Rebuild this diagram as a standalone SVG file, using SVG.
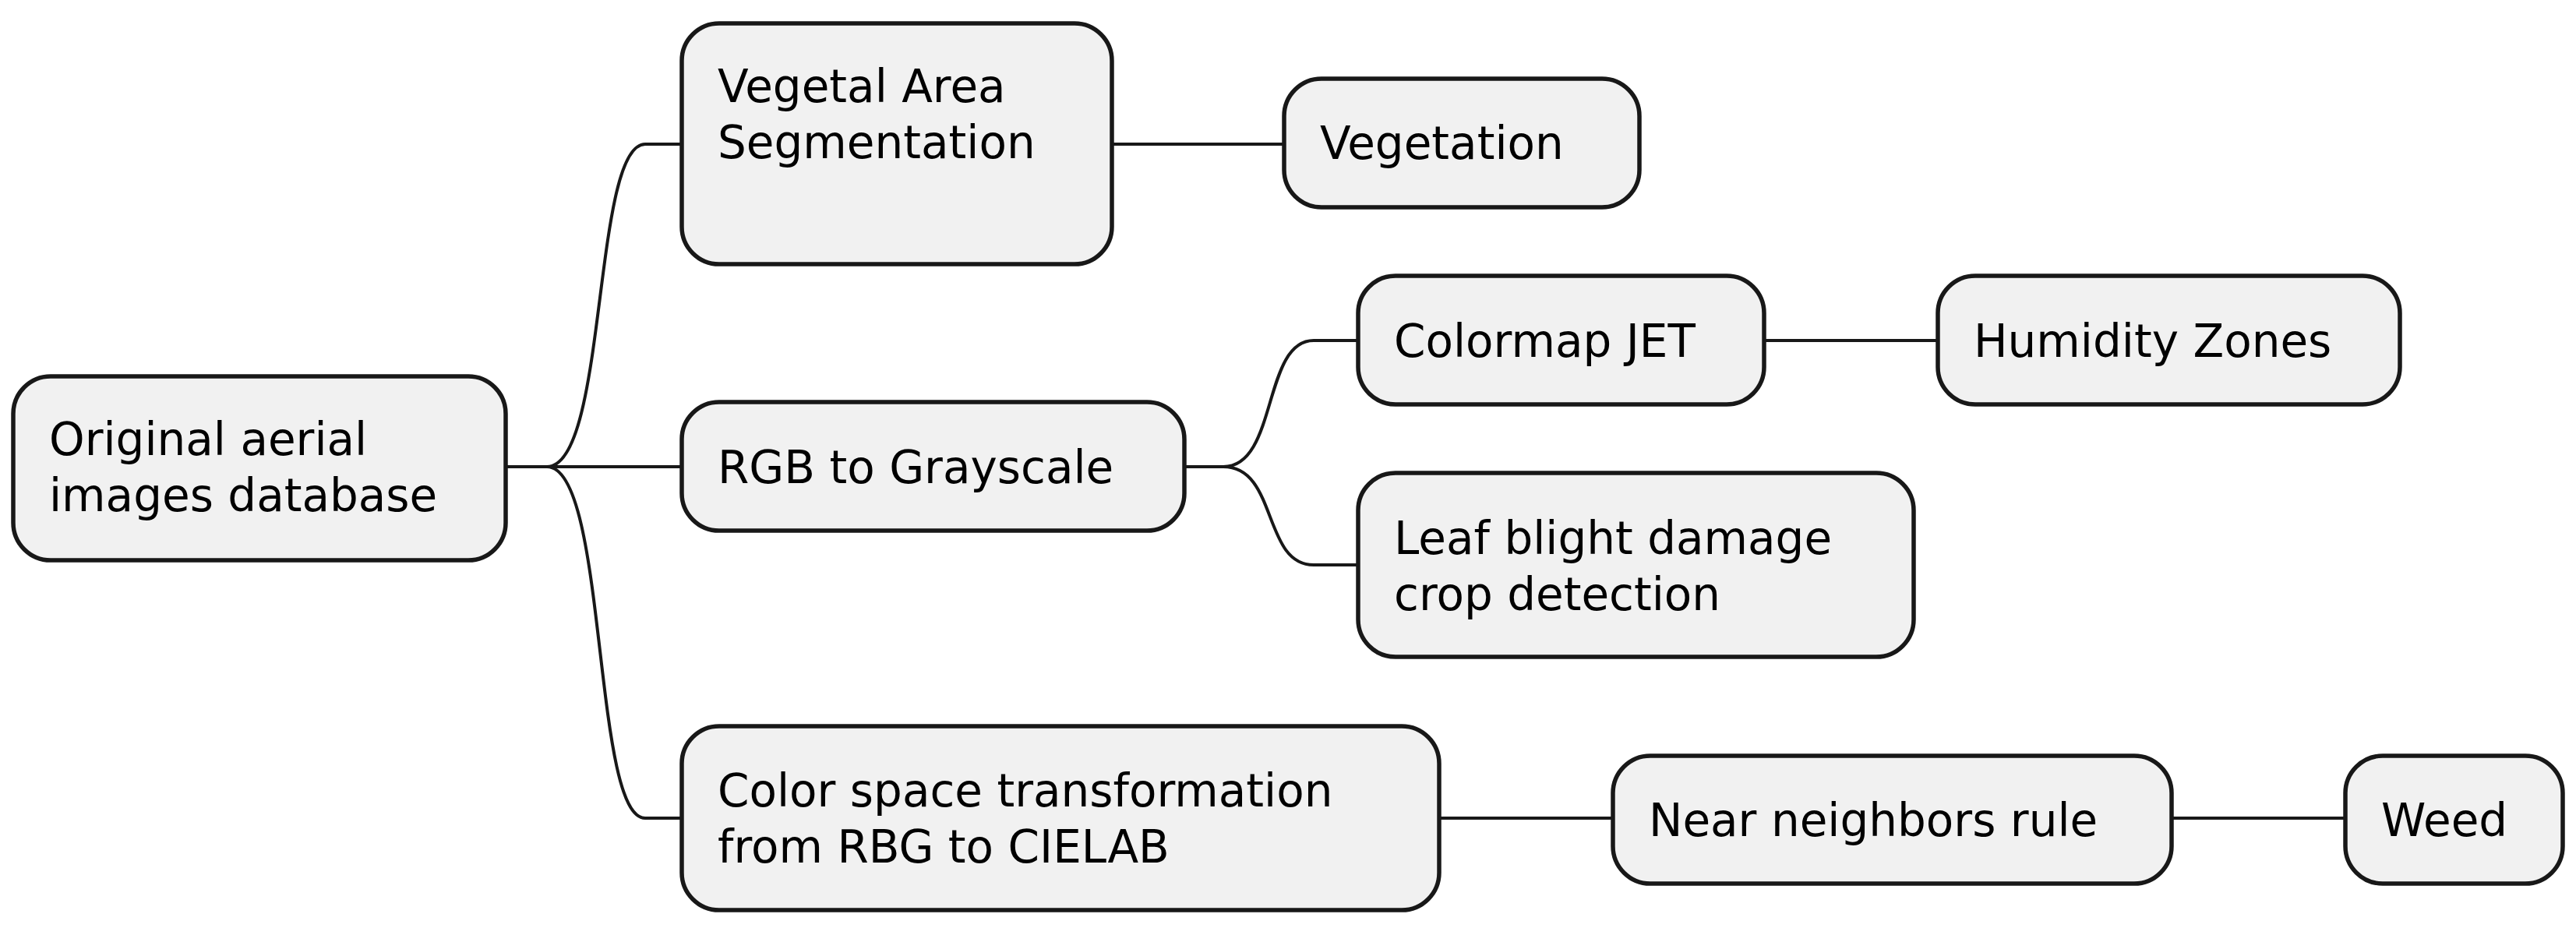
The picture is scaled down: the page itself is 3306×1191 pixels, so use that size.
<svg xmlns="http://www.w3.org/2000/svg" width="3306" height="1191" viewBox="0 0 3306 1191">
<style>
rect{fill:#f1f1f1;stroke:#181818;stroke-width:5.5}
text{font-family:"DejaVu Sans",sans-serif;font-size:58px;fill:#000}
#links path{fill:none;stroke:#181818;stroke-width:4}
</style>
<rect width="3306" height="1191" fill="#fff" style="stroke:none;fill:#fff"/>
<g id="links">
<path d="M649 599 H702 C780 599 760 185 828 185 H875"/>
<path d="M649 599 H875"/>
<path d="M702 599 C780 599 760 1050 828 1050 H875"/>
<path d="M1427 185 H1648"/>
<path d="M1520 599 H1570 C1640 599 1620 437 1686 437 H1743"/>
<path d="M1570 599 C1640 599 1620 725 1686 725 H1743"/>
<path d="M2264 437 H2487"/>
<path d="M1847 1050 H2070"/>
<path d="M2787 1050 H3010"/>
</g>
<g id="root"><rect x="17" y="483" width="632" height="236" rx="48"/><text x="63" y="584">Original aerial</text><text x="63" y="656">images database</text></g>
<g id="vegetal"><rect x="875" y="30" width="552" height="309" rx="48"/><text x="921" y="131">Vegetal Area</text><text x="921" y="203">Segmentation</text></g>
<g id="vegetation"><rect x="1648" y="101" width="456" height="165" rx="48"/><text x="1694" y="204">Vegetation</text></g>
<g id="rgb"><rect x="875" y="516" width="645" height="165" rx="48"/><text x="921" y="620">RGB to Grayscale</text></g>
<g id="colormap"><rect x="1743" y="354" width="521" height="165" rx="48"/><text x="1789" y="458">Colormap JET</text></g>
<g id="humidity"><rect x="2487" y="354" width="593" height="165" rx="48"/><text x="2533" y="458">Humidity Zones</text></g>
<g id="leaf"><rect x="1743" y="607" width="713" height="236" rx="48"/><text x="1789" y="711">Leaf blight damage</text><text x="1789" y="783">crop detection</text></g>
<g id="colorspace"><rect x="875" y="932" width="972" height="236" rx="48"/><text x="921" y="1035">Color space transformation</text><text x="921" y="1107">from RBG to CIELAB</text></g>
<g id="near"><rect x="2070" y="970" width="717" height="164" rx="48"/><text x="2116" y="1073">Near neighbors rule</text></g>
<g id="weed"><rect x="3010" y="970" width="279" height="164" rx="48"/><text x="3056" y="1073">Weed</text></g>
</svg>
